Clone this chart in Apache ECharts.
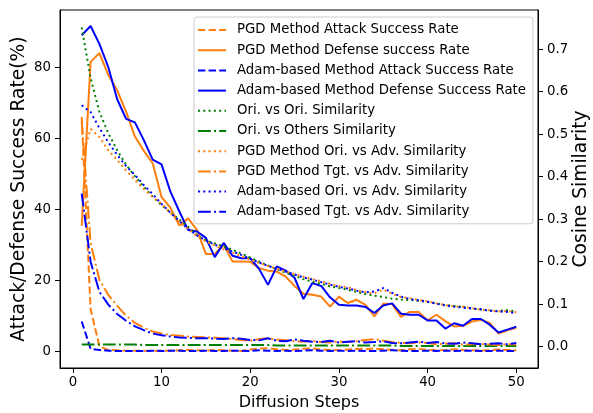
<!DOCTYPE html>
<html>
<head>
<meta charset="utf-8">
<script src="https://cdn.jsdelivr.net/npm/echarts@6/dist/echarts.min.js"></script>
<style>html,body{margin:0;padding:0;background:#fff}#chart{width:593px;height:413px}</style>
</head>
<body>
<div id="chart"></div>
<script>
// diffusion steps
var steps = [1, 2, 3, 4, 5, 6, 7, 8, 9, 10, 11, 12, 13, 14, 15, 16, 17, 18, 19, 20,
  21, 22, 23, 24, 25, 26, 27, 28, 29, 30, 31, 32, 33, 34, 35, 36, 37, 38, 39, 40,
  41, 42, 43, 44, 45, 46, 47, 48, 49, 50];

// success rates (%), left axis
var pgdAttack = [66, 12, 1.5, 0.5, 0.4, 0.3, 0.3, 0.3, 0.2, 0.3, 0.3, 0.4, 0.5, 0.4, 0.3, 0.5, 0.4, 0.3, 0.2, 0.6,
  0.9, 1.0, 0.7, 0.5, 0.6, 0.8, 0.9, 0.6, 0.5, 0.4, 0.6, 0.8, 0.7, 0.9, 0.7, 0.5, 0.4, 0.7, 0.8, 0.5,
  0.4, 0.5, 0.7, 0.5, 0.4, 0.3, 0.4, 0.6, 0.5, 0.4];
var pgdDefense = [35.4, 81.5, 84, 77.8, 73.5, 67.5, 60.5, 56.5, 53, 43.5, 40.5, 35.5, 37.5, 34.2, 27.5, 27.5, 30, 25.4, 25.4, 25.3,
  23.5, 22.8, 22.5, 21.1, 18.5, 16.3, 16, 15.5, 12.7, 15.5, 13.7, 14.6, 13.2, 9.9, 13.5, 13.4, 9.8, 11.2, 11.2, 8.8,
  10.4, 8.6, 7.1, 7.3, 8.5, 9, 8.1, 5.1, 6, 6.7];
var adamAttack = [8.5, 0.8, 0.5, 0.3, 0.2, 0.2, 0.2, 0.2, 0.3, 0.2, 0.3, 0.3, 0.2, 0.2, 0.3, 0.2, 0.2, 0.3, 0.3, 0.2,
  0.4, 0.3, 0.2, 0.3, 0.2, 0.3, 0.4, 0.3, 0.2, 0.3, 0.2, 0.3, 0.2, 0.2, 0.3, 0.4, 0.3, 0.2, 0.2, 0.3,
  0.2, 0.3, 0.2, 0.3, 0.3, 0.2, 0.2, 0.3, 0.2, 0.2];
var adamDefense = [89, 91.6, 86.5, 80, 71, 65.5, 64.5, 59.5, 54, 52.7, 45, 39.5, 34.2, 33.8, 32, 26.6, 30.6, 27, 26.3, 26.3,
  23.3, 18.8, 24, 22.8, 20.8, 14.8, 19.3, 18.5, 15.3, 13.2, 13, 13, 12.6, 10.9, 13, 13.6, 10.7, 10.4, 10.4, 8.8,
  8.8, 6.5, 8, 7.3, 9.2, 9.2, 7.6, 5.4, 6.2, 7];

// cosine similarity, right axis
var oriOri = [0.751, 0.632, 0.552, 0.502, 0.462, 0.428, 0.401, 0.376, 0.353, 0.333, 0.316, 0.299, 0.282, 0.262, 0.25, 0.243, 0.236, 0.228, 0.219, 0.21,
  0.2, 0.191, 0.182, 0.174, 0.167, 0.159, 0.153, 0.148, 0.142, 0.138, 0.134, 0.129, 0.124, 0.12, 0.117, 0.113, 0.111, 0.11, 0.108, 0.105,
  0.102, 0.098, 0.096, 0.093, 0.09, 0.088, 0.085, 0.084, 0.086, 0.083];
var oriOthers = [0.005, 0.005, 0.005, 0.005, 0.005, 0.005, 0.005, 0.004, 0.004, 0.004, 0.004, 0.004, 0.004, 0.004, 0.004, 0.004, 0.004, 0.004, 0.004, 0.004,
  0.004, 0.004, 0.003, 0.003, 0.003, 0.003, 0.003, 0.003, 0.003, 0.003, 0.003, 0.003, 0.003, 0.003, 0.003, 0.003, 0.002, 0.002, 0.002, 0.002,
  0.002, 0.002, 0.002, 0.002, 0.002, 0.002, 0.002, 0.002, 0.002, 0.002];
var pgdOriAdv = [0.44, 0.512, 0.493, 0.462, 0.439, 0.415, 0.392, 0.371, 0.352, 0.336, 0.315, 0.293, 0.277, 0.26, 0.248, 0.238, 0.229, 0.221, 0.213, 0.205,
  0.197, 0.19, 0.184, 0.177, 0.171, 0.165, 0.159, 0.154, 0.148, 0.143, 0.14, 0.133, 0.128, 0.126, 0.134, 0.125, 0.117, 0.114, 0.11, 0.107,
  0.102, 0.098, 0.095, 0.094, 0.091, 0.087, 0.086, 0.083, 0.084, 0.081];
var pgdTgtAdv = [0.53, 0.244, 0.157, 0.122, 0.096, 0.073, 0.056, 0.045, 0.036, 0.031, 0.028, 0.026, 0.024, 0.023, 0.022, 0.021, 0.02, 0.018, 0.016, 0.014,
  0.018, 0.02, 0.017, 0.015, 0.013, 0.012, 0.014, 0.011, 0.01, 0.012, 0.011, 0.013, 0.016, 0.018, 0.014, 0.011, 0.009, 0.008, 0.01, 0.009,
  0.006, 0.007, 0.008, 0.005, 0.006, 0.007, 0.005, 0.004, 0.006, 0.005];
var adamOriAdv = [0.568, 0.552, 0.514, 0.481, 0.451, 0.425, 0.404, 0.38, 0.359, 0.336, 0.315, 0.296, 0.277, 0.262, 0.25, 0.24, 0.232, 0.224, 0.216, 0.207,
  0.198, 0.19, 0.184, 0.177, 0.17, 0.163, 0.158, 0.152, 0.146, 0.141, 0.137, 0.132, 0.128, 0.13, 0.138, 0.127, 0.118, 0.112, 0.109, 0.106,
  0.101, 0.097, 0.094, 0.092, 0.09, 0.088, 0.085, 0.083, 0.082, 0.079];
var adamTgtAdv = [0.36, 0.2, 0.129, 0.099, 0.077, 0.061, 0.048, 0.039, 0.031, 0.027, 0.024, 0.022, 0.021, 0.02, 0.02, 0.019, 0.018, 0.02, 0.019, 0.016,
  0.015, 0.02, 0.014, 0.013, 0.017, 0.014, 0.012, 0.011, 0.014, 0.01, 0.012, 0.013, 0.01, 0.011, 0.013, 0.009, 0.008, 0.01, 0.012, 0.009,
  0.011, 0.008, 0.007, 0.01, 0.008, 0.006, 0.007, 0.008, 0.006, 0.009];

var xTicks = [0, 10, 20, 30, 40, 50];
var leftTicks = [0, 20, 40, 60, 80];
var rightTicks = [0, 0.1, 0.2, 0.3, 0.4, 0.5, 0.6, 0.7];

var FONT = 'DejaVu Sans';
var ORANGE = '#ff7f0e', BLUE = '#0000ff', GREEN = '#008000';
var SOLID = 'solid', DASH = [7.4, 3.2], DOT = [2, 3.3], DASHDOT = [12.8, 3.2, 2, 3.2];

function pairs(vals) {
  return vals.map(function (v, i) { return [steps[i], v]; });
}

function line(name, vals, color, type, yIdx) {
  return {
    name: name,
    type: 'line',
    yAxisIndex: yIdx,
    data: pairs(vals),
    symbol: 'none',
    animation: false,
    color: color,
    lineStyle: { color: color, width: 2, type: type, cap: 'butt' }
  };
}

function axisCommon(ticks, fmt) {
  return {
    axisLine: { show: true, onZero: false, lineStyle: { color: '#000', width: 1 } },
    axisTick: { show: true, customValues: ticks, length: 5, lineStyle: { color: '#000', width: 1 } },
    axisLabel: { customValues: ticks, color: '#000', fontSize: 13.3, fontFamily: FONT, formatter: fmt },
    splitLine: { show: false },
    nameMoveOverlap: false,
    nameTextStyle: { color: '#000', fontSize: 16, fontFamily: FONT }
  };
}

var myChart = echarts.init(document.getElementById('chart'));

var xAx = axisCommon(xTicks, function (v) { return String(v); });
xAx.type = 'value';
xAx.min = -1.45;
xAx.max = 52.45;
xAx.axisLabel.margin = 8;
xAx.name = 'Diffusion Steps';
xAx.nameLocation = 'middle';
xAx.nameGap = 27;

var yLeft = axisCommon(leftTicks, function (v) { return String(v); });
yLeft.type = 'value';
yLeft.position = 'left';
yLeft.min = -4.58;
yLeft.max = 96.1;
yLeft.axisLabel.margin = 9;
yLeft.name = 'Attack/Defense Success Rate(%)';
yLeft.nameLocation = 'middle';
yLeft.nameRotate = 90;
yLeft.nameGap = 31;
yLeft.nameTextStyle.fontSize = 18.7;

var yRight = axisCommon(rightTicks, function (v) { return v.toFixed(1); });
yRight.type = 'value';
yRight.position = 'right';
yRight.min = -0.05;
yRight.max = 0.792;
yRight.axisLabel.margin = 9;
yRight.name = 'Cosine Similarity';
yRight.nameLocation = 'middle';
yRight.nameRotate = 90;
yRight.nameGap = 34;
yRight.nameTextStyle.fontSize = 18.7;

var option = {
  backgroundColor: '#fff',
  animation: false,
  grid: {
    left: 60, right: 55, top: 10, bottom: 45,
    outerBoundsMode: 'none', containLabel: false,
    show: true, borderColor: '#000', borderWidth: 1, backgroundColor: 'transparent'
  },
  legend: {
    orient: 'vertical',
    left: 194,
    top: 17,
    padding: [6, 7, 5, 3],
    itemWidth: 28,
    itemHeight: 14,
    itemGap: 6.2,
    itemStyle: { opacity: 0 },
    backgroundColor: 'rgba(255,255,255,0.8)',
    borderColor: '#cccccc',
    borderWidth: 1,
    borderRadius: 3,
    textStyle: { color: '#000', fontSize: 13.3, fontFamily: FONT, lineHeight: 14, padding: [0, 0, 0, 6] }
  },
  xAxis: xAx,
  yAxis: [yLeft, yRight],
  series: [
    line('PGD Method Attack Success Rate', pgdAttack, ORANGE, DASH, 0),
    line('PGD Method Defense success Rate', pgdDefense, ORANGE, SOLID, 0),
    line('Adam-based Method Attack Success Rate', adamAttack, BLUE, DASH, 0),
    line('Adam-based Method Defense Success Rate', adamDefense, BLUE, SOLID, 0),
    line('Ori. vs Ori. Similarity', oriOri, GREEN, DOT, 1),
    line('Ori. vs Others Similarity', oriOthers, GREEN, DASHDOT, 1),
    line('PGD Method Ori. vs Adv. Similarity', pgdOriAdv, ORANGE, DOT, 1),
    line('PGD Method Tgt. vs Adv. Similarity', pgdTgtAdv, ORANGE, DASHDOT, 1),
    line('Adam-based Ori. vs Adv. Similarity', adamOriAdv, BLUE, DOT, 1),
    line('Adam-based Tgt. vs Adv. Similarity', adamTgtAdv, BLUE, DASHDOT, 1)
  ]
};

myChart.setOption(option);
</script>
</body>
</html>
